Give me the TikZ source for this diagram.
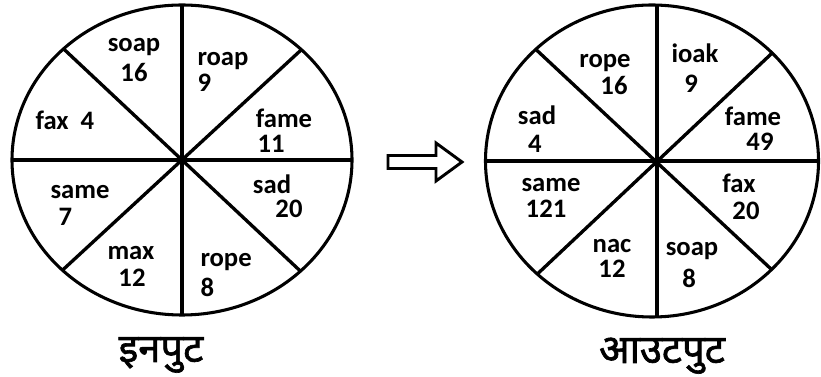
\documentclass[tikz,border=0pt]{standalone}
\usepackage{fontspec}
\setmainfont{Carlito}
\newfontfamily\hindifont[Script=Devanagari,FakeBold=1.6]{Noto Sans}

\tikzset{every picture/.style={line width=0.75pt}}
\tikzset{
  wheel/.style={line width=2.3pt, black},
  spoke/.style={line width=2.5pt, black},
  word/.style={anchor=base, inner sep=0pt, font=\fontsize{20}{22}\selectfont\bfseries},
  wordl/.style={word, anchor=base west},
  caption/.style={anchor=base, inner sep=0pt, font=\hindifont\fontsize{30}{34}\selectfont}
}

\begin{document}
\begin{tikzpicture}[x=0.75pt,y=0.75pt,yscale=-1,xscale=1]
	\useasboundingbox (0,0) rectangle (821,377);

	%Straight Lines [input spokes]
	\begin{scope}
	\clip (182,160) ellipse [x radius=170, y radius=155];
	\draw [spoke] (182,0) -- (182,320) ;
	\draw [spoke] (5,160) -- (360,160) ;
	\draw [spoke] (52,38) -- (312,282) ;
	\draw [spoke] (313,39) -- (54,278) ;
	\end{scope}
	%Shape: Ellipse [input wheel]
	\draw [wheel] (182,160) ellipse [x radius=170, y radius=155];

	%Straight Lines [output spokes]
	\begin{scope}
	\clip (652,161) ellipse [x radius=166.5, y radius=156];
	\draw [spoke] (657,0) -- (657,322) ;
	\draw [spoke] (478,161) -- (825,161) ;
	\draw [spoke] (529,43) -- (786,283) ;
	\draw [spoke] (786,40) -- (531,280) ;
	\end{scope}
	%Shape: Ellipse [output wheel]
	\draw [wheel] (652,161) ellipse [x radius=166.5, y radius=156];

	%Shape: Hollow Arrow
	\draw [line width=2.2pt, line join=miter] (388,155.5) -- (436,155.5) -- (436,143) -- (462,162) -- (436,181) -- (436,168.5) -- (388,168.5) -- cycle ;

	% Text Node [input]
	\node [word] (inSoap) at (134,52) {soap};
	\node [word] (inSoapN) at (134,82) {16};
	\node [wordl] (inRoap) at (197,66) {roap};
	\node [wordl] (inRoapN) at (197,92) {9};
	\node [word] (inFame) at (284,128) {fame};
	\node [wordl] (inFameN) at (257,153) {11};
	\node [wordl] (inFax) at (35,130) {fax};
	\node [wordl] (inFaxN) at (80,130) {4};
	\node [word] (inSame) at (80,199) {same};
	\node [wordl] (inSameN) at (58,226) {7};
	\node [word] (inMax) at (131,260) {max};
	\node [word] (inMaxN) at (132,287) {12};
	\node [word] (inSad) at (272,194) {sad};
	\node [word] (inSadN) at (289,218) {20};
	\node [wordl] (inRope) at (200,267) {rope};
	\node [wordl] (inRopeN) at (200,297) {8};

	% Text Node [output]
	\node [word] (outRope) at (605,68) {rope};
	\node [word] (outRopeN) at (614,95) {16};
	\node [word] (outIoak) at (695,63) {ioak};
	\node [word] (outIoakN) at (691,93) {9};
	\node [word] (outFame) at (753,126) {fame};
	\node [word] (outFameN) at (760,151) {49};
	\node [word] (outSad) at (537,125) {sad};
	\node [word] (outSadN) at (535,153) {4};
	\node [word] (outSame) at (551,192) {same};
	\node [word] (outSameN) at (546,218) {121};
	\node [word] (outNac) at (612,253) {nac};
	\node [word] (outNacN) at (612,278) {12};
	\node [word] (outFax) at (739,193) {fax};
	\node [word] (outFaxN) at (746,220) {20};
	\node [word] (outSoap) at (692,256) {soap};
	\node [word] (outSoapN) at (689,288) {8};

	% Text Node [captions]
	\node [caption] (inCap) at (161,362) {इनपुट};
	\node [caption] (outCap) at (662,363) {आउटपुट};

\end{tikzpicture}
\end{document}
